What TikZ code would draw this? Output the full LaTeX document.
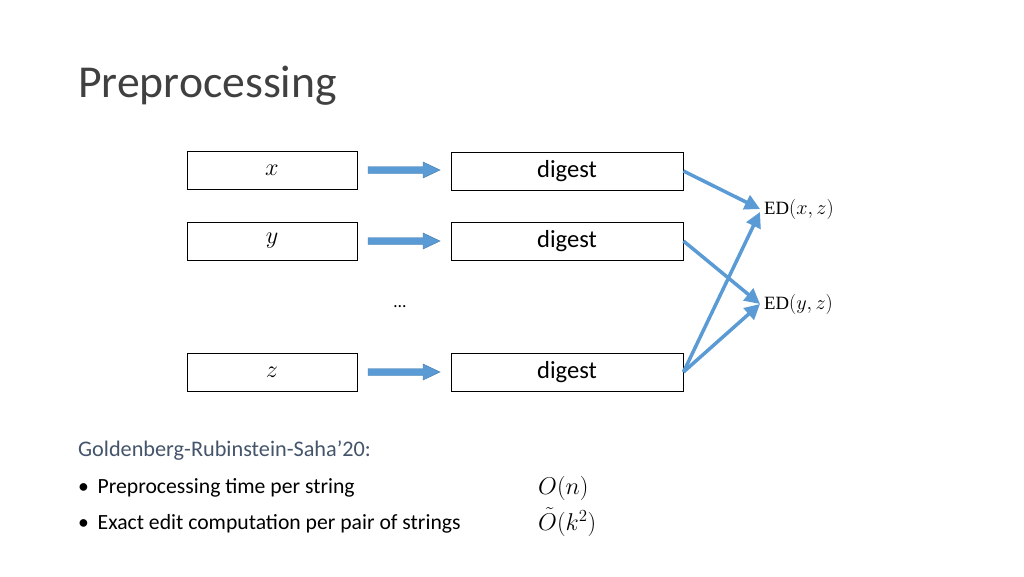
\documentclass[tikz,border=0pt]{standalone}
\usepackage{fontspec}
\setmainfont{Carlito}
\newfontfamily\serifed{Liberation Serif}
\usepackage{amsmath}
\usetikzlibrary{arrows.meta}
\begin{document}
\begin{tikzpicture}[x=0.03cm,y=-0.03cm,
  box/.style={draw,line width=0.8pt,minimum width=170*0.03cm,minimum height=38*0.03cm,inner sep=0pt,font=\fontsize{21}{24}\selectfont},
  dbox/.style={box,minimum width=232*0.03cm},
  conn/.style={arrowblue,line width=3pt,-{Triangle[length=13pt,width=13pt]}},
  lbl/.style={font=\fontsize{16}{18}\selectfont,anchor=west}]
\definecolor{arrowblue}{HTML}{5B9BD5}
\definecolor{titlegray}{HTML}{404040}
\definecolor{slate}{HTML}{44546A}
\useasboundingbox (0,0) rectangle (1024,576);
\node[anchor=west,text=titlegray,font=\fontsize{39}{44}\selectfont] (title) at (74,86) {Preprocessing};
\node[box] (x) at (272,170) {$x$};
\node[box] (y) at (272,241) {$y$};
\node[box] (z) at (272,372) {$z$};
\node[dbox] (dx) at (567,171) {\raisebox{-1pt}{digest}};
\node[dbox] (dy) at (567,241) {\raisebox{-1pt}{digest}};
\node[dbox] (dz) at (567,372) {\raisebox{-1pt}{digest}};
\node[font=\fontsize{15}{18}\selectfont] (dots) at (400,307) {\dots};
\node[lbl] (edx) at (760,209) {{\serifed ED}$(x,z)$};
\node[lbl] (edy) at (760,304) {{\serifed ED}$(y,z)$};
\foreach \r in {170,241,372}{
  \draw[fill=arrowblue,draw=arrowblue!80!black,line width=0.4pt]
    (368,\r-3.5) -- (423,\r-3.5) -- (423,\r-8) -- (440,\r) -- (423,\r+8) -- (423,\r+3.5) -- (368,\r+3.5) -- cycle;
}
\draw[conn] (dx.east) -- (edx.west);
\draw[conn] (dy.east) -- (edy.west);
\draw[conn] (dz.east) -- ([yshift=-3*0.03cm]edx.west);
\draw[conn] (dz.east) -- (edy.west);
\node[anchor=west,text=slate,font=\fontsize{19}{23}\selectfont] (cite) at (74,451) {Goldenberg-Rubinstein-Saha’20:};
\node[anchor=west,font=\fontsize{18.5}{23}\selectfont,inner sep=0pt] (b1) at (78,488) {\textbullet\hspace{0.4em}Preprocessing time per string};
\node[anchor=west,font=\fontsize{18.5}{23}\selectfont,inner sep=0pt] (b2) at (78,524) {\textbullet\hspace{0.4em}Exact edit computation per pair of strings};
\node[anchor=west,font=\fontsize{21}{23}\selectfont,inner sep=0pt] (c1) at (538,488) {$O(n)$};
\node[anchor=west,font=\fontsize{21}{23}\selectfont,inner sep=0pt] (c2) at (538,522) {$\tilde{O}(k^2)$};
\end{tikzpicture}
\end{document}
